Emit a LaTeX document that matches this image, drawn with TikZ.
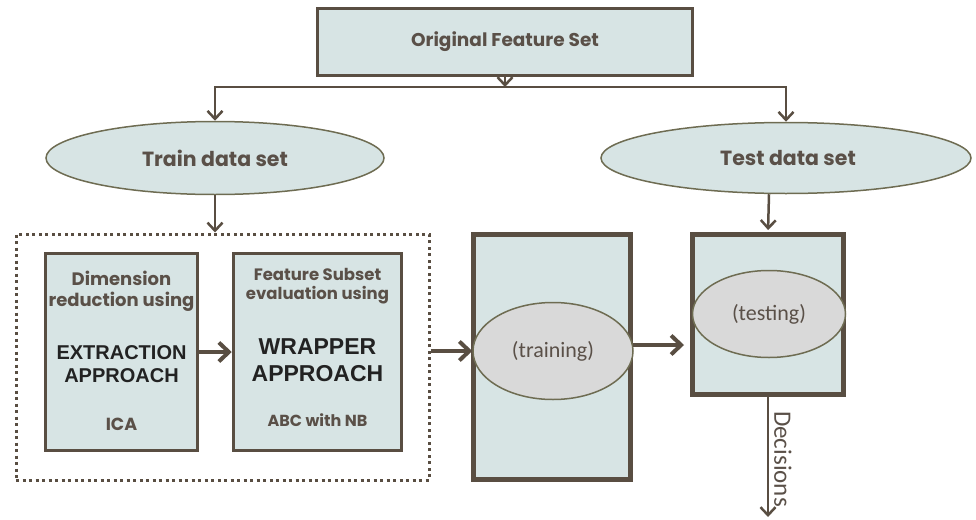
\documentclass[tikz,border=0pt]{standalone}
\usepackage{fontspec}
\setmainfont{Carlito}
\newfontfamily\geofont{Poppins}
\newfontfamily\arialfont{Liberation Sans}
\usetikzlibrary{arrows.meta,positioning,shapes.geometric}
\definecolor{panel}{HTML}{D7E4E4}
\definecolor{edge}{HTML}{594E42}
\definecolor{oval}{HTML}{D9D9D9}
\definecolor{ovaledge}{HTML}{6E6C52}
\definecolor{ink}{HTML}{5A5048}
\definecolor{dark}{HTML}{222222}

\begin{document}
\begin{tikzpicture}[x=1pt,y=-1pt,
  box/.style={draw=edge,fill=panel,line width=3pt,inner sep=0pt},
  bigbox/.style={draw=edge,fill=panel,line width=5pt,inner sep=0pt},
  set/.style={ellipse,draw=ovaledge,fill=panel,line width=1.5pt,inner sep=0pt},
  stage/.style={ellipse,draw=ovaledge,fill=oval,line width=1.5pt,inner sep=0pt},
  conn/.style={draw=edge,line width=2.5pt,-{Straight Barb[length=8pt,width=15pt]}},
  thick conn/.style={draw=edge,line width=4pt,-{Straight Barb[length=10pt,width=19pt]}},
  geo/.style={font=\geofont\bfseries\fontsize{#1}{1.15\dimexpr#1pt\relax}\selectfont,text=ink,align=center},
  arial/.style={font=\arialfont\bfseries\fontsize{#1}{1.15\dimexpr#1pt\relax}\selectfont,text=dark,align=center}]
  \useasboundingbox (0,0) rectangle (976,519);

  % Feature set and split
  \node[box,minimum width=375pt,minimum height=67pt] (orig) at (505,42) {};
  \node[geo=18.5] (origtxt) at (505,42) {Original Feature Set};
  \coordinate (split) at (505,87);
  \node[set,minimum width=338pt,minimum height=73pt] (train) at (215,158) {};
  \node[geo=20.5] (traintxt) at (215,158) {Train data set};
  \node[set,minimum width=370pt,minimum height=71pt] (test) at (786,158) {};
  \node[geo=20.5] (testtxt) at (788,158) {Test data set};

  % Feature selection stages
  \node[draw=edge,line width=3pt,dash pattern=on 3pt off 3.5pt,minimum width=413pt,minimum height=246pt,inner sep=0pt] (select) at (222.5,357) {};
  \node[box,line width=3.5pt,minimum width=152pt,minimum height=197pt] (extract) at (121.5,352) {};
  \node[geo=18] (extracttop) at (121.5,291) {Dimension\\reduction using};
  \node[arial=20] (extractmid) at (121.5,364) {EXTRACTION\\APPROACH};
  \node[geo=17.5] (extractlow) at (121.5,424) {ICA};
  \node[box,line width=3.5pt,minimum width=168pt,minimum height=197pt] (wrap) at (317.5,352) {};
  \node[geo=16.5] (wraptop) at (317.5,286) {Feature Subset\\evaluation using};
  \node[arial=23] (wrapmid) at (317.5,360) {WRAPPER\\APPROACH};
  \node[geo=16] (wraplow) at (317.5,420) {ABC with NB};

  % Classifier
  \node[bigbox,minimum width=157pt,minimum height=245pt] (trainbox) at (552,357) {};
  \node[stage,minimum width=160pt,minimum height=97pt,font=\fontsize{22}{26}\selectfont,text=ink] (training) at (553,351) {(training)};
  \node[bigbox,minimum width=151pt,minimum height=160pt] (testbox) at (768,314.5) {};
  \node[stage,minimum width=153pt,minimum height=87pt,font=\fontsize{22}{26}\selectfont,text=ink] (testing) at (769,314) {(testing)};
  \coordinate (decide) at (768,517);
  \node[rotate=-90,anchor=south,font=\fontsize{25}{30}\selectfont,text=ink,inner sep=0pt] (decidetxt) at (774,459) {Decisions};

  % Connectors
  \draw[conn] (orig.south) -- (split);
  \draw[conn] (split) -| (train.north);
  \draw[conn] (split) -| (test.north);
  \draw[conn] (train.south) -- (train.south |- select.north);
  \draw[thick conn] (extract.east) -- (wrap.west);
  \draw[thick conn] (select.east |- training.center) -- (training.west);
  \draw[thick conn] ([yshift=12pt]trainbox.east) -- ([yshift=12pt,xshift=-6pt]trainbox.east -| testbox.west);
  \draw[conn,shorten >=2pt] (testing.north |- test.south) -- (testbox.north);
  \draw[conn] (testbox.south) -- (decide);
\end{tikzpicture}
\end{document}
